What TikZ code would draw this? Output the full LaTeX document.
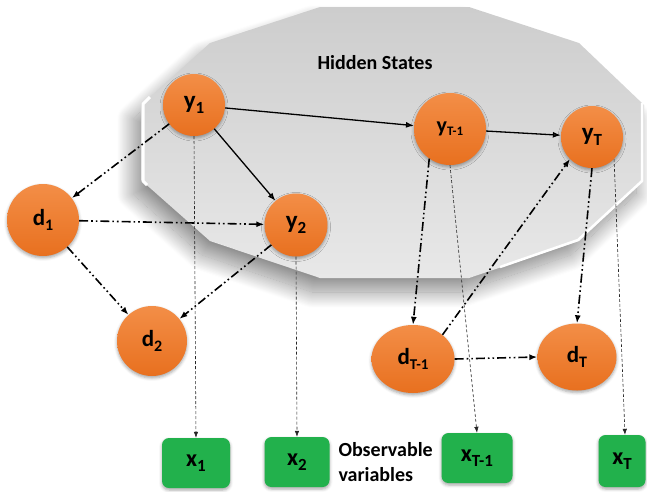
\documentclass[tikz,border=0pt]{standalone}
\usepackage{fontspec}
\setmainfont{Carlito}
\usetikzlibrary{arrows.meta,shadows.blur,shapes.geometric}

\definecolor{hsTop}{HTML}{CDCDCD}
\definecolor{hsBot}{HTML}{E8E8E8}
\definecolor{orLight}{HTML}{F38E47}
\definecolor{orDark}{HTML}{E8701F}
\definecolor{obsGreen}{HTML}{22B14C}

% variable label: letter, subscript, letter size, subscript size, drop
\newcommand\vlab[5]{\fontsize{#3}{#3}\selectfont #1\raisebox{-#5}{\fontsize{#4}{#4}\selectfont #2}}

\tikzset{
  hidnode/.style={circle, inner sep=0pt, top color=orLight, bottom color=orDark,
    font=\bfseries,
    blur shadow={shadow xshift=0pt, shadow yshift=-2pt, shadow blur radius=3pt, shadow opacity=35}},
  durnode/.style={ellipse, inner sep=0pt, top color=orLight, bottom color=orDark,
    font=\bfseries,
    blur shadow={shadow xshift=0pt, shadow yshift=-2pt, shadow blur radius=3pt, shadow opacity=35}},
  obsnode/.style={rectangle, rounded corners=7pt, fill=obsGreen, inner sep=0pt,
    minimum height=50pt, font=\bfseries,
    blur shadow={shadow xshift=0pt, shadow yshift=-2pt, shadow blur radius=3pt, shadow opacity=35}},
  solidarr/.style={-{Latex[length=8pt,width=6pt]}, line width=1.3pt},
  ddarr/.style={-{Latex[length=8pt,width=6pt]}, line width=1.6pt,
    dash pattern=on 9pt off 3pt on 1.6pt off 3pt on 1.6pt off 3pt},
  emitarr/.style={-{Latex[length=6pt,width=4.5pt]}, line width=0.6pt,
    dash pattern=on 3pt off 2pt, draw=black!85},
}

\begin{document}
\begin{tikzpicture}[x=1pt,y=-1pt]
\useasboundingbox (0,0) rectangle (647,491);

% hidden-state region: a flattened twelve-sided plate
\path[blur shadow={shadow xshift=-8pt, shadow yshift=-14pt, shadow blur radius=16pt,
        shadow blur steps=40, shadow opacity=45},
      top color=hsTop, bottom color=hsBot]
  (320,7) -- (469,7) -- (579,43) -- (644,105) -- (644,180) -- (579,241)
  -- (469,278) -- (320,278) -- (210,241) -- (141,180) -- (141,105) -- (210,43) -- cycle;
% bevel highlights
\draw[white, line width=3pt, line join=round]
  (150,97) -- (143,104) -- (143,181) -- (147,185);
\draw[white, line width=2.5pt, line join=round]
  (642,103) -- (642,181) -- (578,240) -- (500,267);

\node[font=\bfseries\fontsize{20}{20}\selectfont] (hs) at (375,63) {Hidden States};

% hidden states
\node[hidnode, minimum size=62pt] (y1)  at (194,105) {\vlab{y}{1}{25}{17}{5pt}};
\node[hidnode, minimum size=63pt] (y2)  at (296,225) {\vlab{y}{2}{25}{17}{5pt}};
\node[hidnode, minimum size=72pt] (yT1) at (450,129) {\vlab{y}{T-1}{22}{13}{3pt}};
\node[hidnode, minimum size=62pt] (yT)  at (592,137) {\vlab{y}{T}{25}{17}{5pt}};

% durations
\node[hidnode, minimum size=72pt] (d1) at (43,220)  {\vlab{d}{1}{23}{16}{5pt}};
\node[hidnode, minimum size=70pt] (d2) at (152,341) {\vlab{d}{2}{23}{16}{5pt}};
\node[durnode, minimum width=83pt, minimum height=68pt] (dT1) at (413,359) {\vlab{d}{T-1}{23}{15}{5pt}};
\node[durnode, minimum width=79pt, minimum height=67pt] (dT)  at (577,357) {\vlab{d}{T}{23}{16}{5pt}};

% observations
\node[obsnode, minimum width=68pt] (x1)  at (196,463) {\vlab{x}{1}{24}{17}{5pt}};
\node[obsnode, minimum width=65pt] (x2)  at (297,462) {\vlab{x}{2}{24}{17}{5pt}};
\node[obsnode, minimum width=71pt] (xT1) at (477,458) {\vlab{x}{T-1}{24}{17}{5pt}};
\node[obsnode, minimum width=47pt, minimum height=52pt] (xT) at (622,461) {\vlab{x}{T}{24}{17}{5pt}};
\node[anchor=west, align=left, font=\bfseries\fontsize{20}{25}\selectfont] (obs) at (335,462)
  {Observable\\variables};

% state transitions
\draw[solidarr] (y1) -- (yT1);
\draw[solidarr] (yT1) -- (yT);
\draw[solidarr] (y1) -- (y2);

% duration dependencies
\draw[ddarr] (y1) -- (d1);
\draw[ddarr] (d1) -- (y2);
\draw[ddarr] (d1) -- (d2);
\draw[ddarr] (y2) -- (d2);
\draw[ddarr] (yT1.-125) -- (dT1.north);
\draw[ddarr] (dT1.north east) -- (yT.south west);
\draw[ddarr] (yT.south) -- (dT.north);
\draw[ddarr] (dT1.east) -- (dT.west);

% emissions
\draw[emitarr] (y1.south) -- (x1.north);
\draw[emitarr] (y2.south) -- (x2.north);
\draw[emitarr] (yT1.south) -- (xT1.north);
\draw[emitarr] (yT.-45) -- ([xshift=3pt]xT.north);
\end{tikzpicture}
\end{document}
